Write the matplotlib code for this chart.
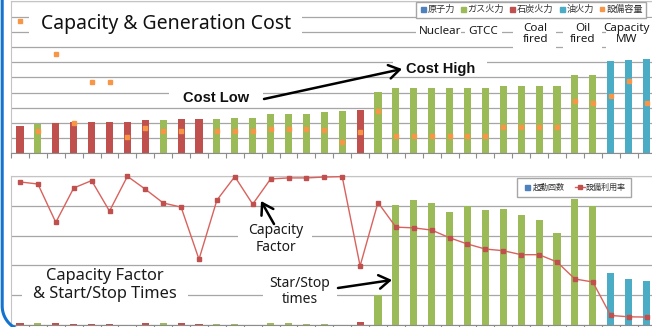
import numpy as np
import matplotlib
matplotlib.use("Agg")
import matplotlib.pyplot as plt
from matplotlib.patches import Rectangle, FancyArrowPatch
from matplotlib.lines import Line2D

plt.rcParams['font.family'] = ['Noto Sans', 'Noto Sans CJK JP', 'DejaVu Sans']

W, H = 652, 327

# plants, sorted by generation cost
fuel = ['coal', 'gas', 'coal', 'coal', 'coal', 'coal', 'coal', 'coal', 'gas', 'coal',
        'coal', 'gas', 'gas', 'gas', 'gas', 'gas', 'gas', 'gas', 'gas', 'coal',
        'gas', 'gas', 'gas', 'gas', 'gas', 'gas', 'gas', 'gas', 'gas', 'gas',
        'gas', 'gas', 'gas', 'oil', 'oil', 'oil']
cost = [3.60, 3.90, 4.02, 4.08, 4.16, 4.16, 4.16, 4.34, 4.34, 4.52,
        4.52, 4.56, 4.64, 4.64, 5.14, 5.14, 5.18, 5.40, 5.60, 5.70,
        8.10, 8.56, 8.56, 8.56, 8.56, 8.56, 8.56, 8.82, 8.82, 8.82,
        8.82, 10.30, 10.30, 12.18, 12.24, 12.36]
capacity = [872, 147, 653, 201, 467, 467, 105, 164, 147, 147,
            np.nan, 147, 147, 147, 160, 160, 160, 153, 74, 140,
            278, 114, 114, 114, 114, 114, 114, 171, 171, 171,
            171, 342, 331, 379, 476, 331]
starts = [3, 3, 3, 1.5, 1.5, 1.5, 0, 3, 3, 3,
          1.5, 1.5, 1.5, 0, 3, 3, 1.5, 1.5, 0, 4,
          50, 201, 210, 205, 189, 200, 193, 194, 185, 177,
          154, 212, 200, 87, 77, 73]
cap_factor = [96.2, 94.8, 68.9, 92.1, 97.1, 76.5, 100.0, 91.3, 82.0, 79.2,
              44.0, 83.9, 99.8, 81.2, 98.2, 98.9, 98.9, 99.5, 99.8, 39.5,
              82.3, 65.7, 65.2, 63.7, 58.5, 54.3, 50.9, 49.8, 47.1, 47.1,
              42.2, 30.7, 28.7, 6.1, 5.2, 5.0]

legend_top = ['原子力', 'ガス火力', '石炭火力', '油火力', '設備容量']
legend_bottom = ['起動回数', '設備利用率']

colors = {'nuclear': '#4F81BD', 'gas': '#9BBB59', 'coal': '#C0504D', 'oil': '#4BACC6'}
cap_color = '#F79646'
line_color = '#D9625D'
grid_color = '#A6A6A6'
txt = '#1A1A1A'
bold_font = ['Liberation Sans', 'DejaVu Sans']


def px(x, y):
    return (x / W, 1 - y / H)


def style(ax, top, step):
    ax.set_xlim(-0.5, len(fuel) - 0.5)
    ax.set_ylim(0, top)
    ax.set_yticks(np.arange(0, top + step / 2, step))
    ax.yaxis.grid(True, color=grid_color, lw=0.9)
    ax.set_axisbelow(True)
    ax.tick_params(axis='y', length=0, labelleft=False)
    ax.set_xticks(np.arange(-0.5, len(fuel), 1))
    ax.tick_params(axis='x', length=3.5, width=0.8, color='#8C8C8C', labelbottom=False)
    for s in ['left', 'top']:
        ax.spines[s].set_color('#C4C4C4')
    ax.spines['right'].set_visible(False)
    ax.spines['bottom'].set_color('#8C8C8C')


fig = plt.figure(figsize=(W / 100, H / 100), dpi=100)
ax1 = fig.add_axes([11.05 / W, 1 - 153.3 / H, 644.4 / W, 152 / H])
ax2 = fig.add_axes([11.05 / W, 1 - 324.5 / H, 644.4 / W, 148.2 / H])

x = np.arange(len(fuel))
bar_colors = [colors[f] for f in fuel]

# cost + capacity
style(ax1, 20, 2)
ax1.bar(x, cost, width=0.4, color=bar_colors)
ax1c = ax1.twinx()
ax1c.set_ylim(0, 1000)
ax1c.plot(x, capacity, 's', ms=2.6, color=cap_color, clip_on=False)
ax1c.axis('off')

# start/stop counts + capacity factor
style(ax2, 250, 50)
ax2.bar(x, starts, width=0.4, color=bar_colors)
ax2c = ax2.twinx()
ax2c.set_xlim(-0.5, len(fuel) - 0.5)
ax2c.set_ylim(0, 100)
ax2c.plot(x, cap_factor, '-s', color=line_color, lw=1, ms=2.6,
          mfc='#C0504D', mec='#C0504D', clip_on=False)
ax2c.axis('off')

# white boxes under the labels
boxes = [(29, 8, 302, 42), (416, 21, 461, 41), (465, 21, 502, 41),
         (513, 18, 556, 52), (563, 18, 602, 52), (606, 18, 652, 52),
         (393, 57, 487, 76), (169, 86, 263, 105),
         (238, 221, 312, 256), (22, 267, 188, 312), (263, 272, 337, 312)]
for x0, y0, x1, y1 in boxes:
    fig.patches.append(Rectangle(px(x0, y1), (x1 - x0) / W, (y1 - y0) / H,
                                 transform=fig.transFigure, facecolor='white',
                                 edgecolor='none', zorder=1))

fig.text(*px(41, 24), 'Capacity & Generation Cost', fontsize=14, color='#111111',
         va='center', ha='left', zorder=3)
for label, cx, cy in [('Nuclear', 440, 31), ('GTCC', 483, 31), ('Coal\nfired', 535.5, 34),
                      ('Oil\nfired', 583, 34), ('Capacity\nMW', 627, 34)]:
    fig.text(*px(cx, cy), label, fontsize=8.4, color=txt, ha='center', va='center',
             linespacing=1.0, zorder=3)

fig.text(*px(216.5, 98), 'Cost Low', fontsize=10.5, fontweight='bold', family=bold_font,
         color='#111111', ha='center', va='center', zorder=3)
fig.text(*px(441, 68.5), 'Cost High', fontsize=10.5, fontweight='bold', family=bold_font,
         color='#111111', ha='center', va='center', zorder=3)
fig.text(*px(276, 239), 'Capacity\nFactor', fontsize=10, color=txt, ha='center',
         va='center', linespacing=1.1, zorder=3)
fig.text(*px(105, 285), 'Capacity Factor\n& Start/Stop Times', fontsize=11.8, color=txt,
         ha='center', va='center', linespacing=1.1, zorder=3)
fig.text(*px(300, 291.5), 'Star/Stop\ntimes', fontsize=10, color=txt, ha='center',
         va='center', linespacing=1.1, zorder=3)

for a, b in [((264, 99), (402, 69)), ((274, 224), (261, 201)), ((338, 288), (392, 280))]:
    fig.patches.append(FancyArrowPatch(px(*a), px(*b), transform=fig.transFigure,
                                       arrowstyle='->,head_length=0.55,head_width=0.35',
                                       mutation_scale=14, lw=1.8, color='black', zorder=4,
                                       shrinkA=0, shrinkB=0))

# legends
top_handles = [Line2D([], [], marker='s', ls='none', color=c, ms=3.6)
               for c in [colors['nuclear'], colors['gas'], colors['coal'], colors['oil']]]
top_handles.append(Line2D([], [], marker='s', ls='none', color=cap_color, ms=2.8))
fig.legend(top_handles, legend_top, loc='upper left', bbox_to_anchor=px(416, 2),
           bbox_transform=fig.transFigure, ncol=5, fontsize=6.6, frameon=True,
           fancybox=False, edgecolor=grid_color, framealpha=1, borderpad=0.35,
           handletextpad=0.1, columnspacing=0.5, handlelength=0.8, borderaxespad=0,
           labelcolor='#333333')
bottom_handles = [Line2D([], [], marker='s', ls='none', color=colors['nuclear'], ms=3.6),
                  Line2D([], [], marker='s', color=line_color, lw=1, ms=2.4,
                         mfc='#C0504D', mec='#C0504D')]
fig.legend(bottom_handles, legend_bottom, loc='upper left', bbox_to_anchor=px(517, 178),
           bbox_transform=fig.transFigure, ncol=2, fontsize=5.8, frameon=True,
           fancybox=False, edgecolor=grid_color, framealpha=1, borderpad=0.6,
           handletextpad=0.1, columnspacing=1.2, handlelength=1.3, borderaxespad=0,
           labelcolor='#333333')

# rounded blue frame on the left
t = np.linspace(0, np.pi / 2, 30)
fx = np.concatenate([[2.2], 27.2 - 25 * np.cos(t), [80]])
fy = np.concatenate([[-3], 306 + 25 * np.sin(t), [331]])
fig.add_artist(Line2D(fx / W, 1 - fy / H, transform=fig.transFigure,
                      color='#1473CF', lw=2.2))

fig.savefig('out.png', dpi=100)
